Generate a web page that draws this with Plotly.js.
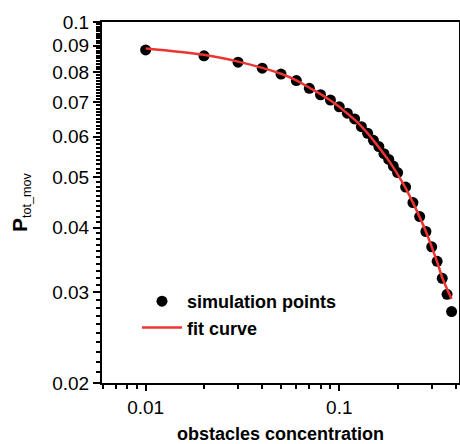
<!DOCTYPE html>
<html>
<head>
<meta charset="utf-8">
<script src="https://cdn.plot.ly/plotly-3.0.1.min.js"></script>
<style>html,body{margin:0;padding:0;background:#fff;}#chart{width:460px;height:444px;}</style>
</head>
<body>
<div id="chart"></div>
<script>
// obstacles concentration for simulation points
const concentration = [0.01,0.02,0.03,0.04,0.05,0.06,0.07,0.08,0.09,0.10,
  0.11,0.12,0.13,0.14,0.15,0.16,0.17,0.18,0.19,0.20,
  0.22,0.24,0.26,0.28,0.30,0.32,0.34,0.36,0.38];
// P_tot_mov from simulation
const simulationP = [0.0883,0.0860,0.0836,0.0814,0.0793,0.0770,0.0744,0.0723,0.0706,0.0685,
  0.0666,0.0649,0.0627,0.0609,0.0590,0.0574,0.0556,0.0542,0.0526,0.0511,
  0.0479,0.0447,0.0420,0.0393,0.0367,0.0344,0.0319,0.0297,0.0275];
// fit curve values read at the same concentrations
const fitP = [0.0889,0.0864,0.0838,0.0815,0.0794,0.0771,0.0746,0.0725,0.0705,0.0685,
  0.0665,0.0647,0.0628,0.0609,0.0590,0.0572,0.0555,0.0539,0.0523,0.0507,
  0.0477,0.0447,0.0419,0.0393,0.0367,0.0343,0.0320,0.0304,0.0291];

const xTickVals = [0.01, 0.1];
const xTickText = ['0.01', '0.1'];
const xMinorVals = [0.006,0.007,0.008,0.009,0.02,0.03,0.04,0.05,0.06,0.07,0.08,0.09,0.2,0.3,0.4];
const yTickVals = [0.02,0.03,0.04,0.05,0.06,0.07,0.08,0.09,0.1];
const yTickText = ['0.02','0.03','0.04','0.05','0.06','0.07','0.08','0.09','0.1'];
const yMinorVals = [];
for (let k = 21; k < 100; k++) { if (k % 10 !== 0) yMinorVals.push(k / 1000); }

const FONT = 'Arial, "Liberation Sans", sans-serif';

const traces = [
  {
    x: concentration, y: simulationP, type: 'scatter', mode: 'markers',
    name: 'simulation points',
    marker: {color: '#000000', size: 11, symbol: 'circle'}
  },
  {
    x: concentration, y: fitP, type: 'scatter', mode: 'lines',
    name: 'fit curve',
    line: {color: '#ee3333', width: 2.5, shape: 'spline', smoothing: 1}
  }
];

const layout = {
  width: 460, height: 444,
  margin: {l: 102, r: 1, t: 22, b: 61},
  paper_bgcolor: '#ffffff', plot_bgcolor: '#ffffff',
  font: {family: FONT, color: '#000000', size: 19},
  showlegend: true,
  legend: {
    x: 0.098, y: 0.277, xanchor: 'left', yanchor: 'top',
    bgcolor: 'rgba(0,0,0,0)', borderwidth: 0,
    itemwidth: 40,
    font: {family: FONT, size: 18, color: '#000000', weight: 'bold'},
    tracegroupgap: 0
  },
  xaxis: {
    type: 'log',
    range: [Math.log10(0.00595), Math.log10(0.415)],
    showgrid: false, zeroline: false,
    showline: true, linecolor: '#000000', linewidth: 2, mirror: true,
    ticks: 'outside', ticklen: 6, tickwidth: 2, tickcolor: '#000000',
    tickmode: 'array', tickvals: xTickVals, ticktext: xTickText,
    tickfont: {family: FONT, size: 19, color: '#000000'},
    minor: {tickmode: 'array', tickvals: xMinorVals, ticklen: 4, tickwidth: 2, tickcolor: '#000000', showgrid: false, ticks: 'outside'},
    title: {text: 'obstacles concentration', font: {family: FONT, size: 18, color: '#000000', weight: 'bold'}, standoff: 16}
  },
  yaxis: {
    type: 'log',
    range: [Math.log10(0.02), Math.log10(0.1)],
    showgrid: false, zeroline: false,
    showline: true, linecolor: '#000000', linewidth: 2, mirror: true,
    ticks: 'outside', ticklen: 7, tickwidth: 2, tickcolor: '#000000',
    tickmode: 'array', tickvals: yTickVals, ticktext: yTickText,
    tickfont: {family: FONT, size: 19, color: '#000000'},
    minor: {tickmode: 'array', tickvals: yMinorVals, ticklen: 4, tickwidth: 2, tickcolor: '#000000', showgrid: false, ticks: 'outside'},
    title: {text: '<b><span style="font-size:21px">P</span></b><sub>tot_mov</sub>', font: {family: FONT, size: 18, color: '#000000'}, standoff: 20}
  }
};

Plotly.newPlot('chart', traces, layout, {displayModeBar: false, staticPlot: true});
</script>
</body>
</html>
